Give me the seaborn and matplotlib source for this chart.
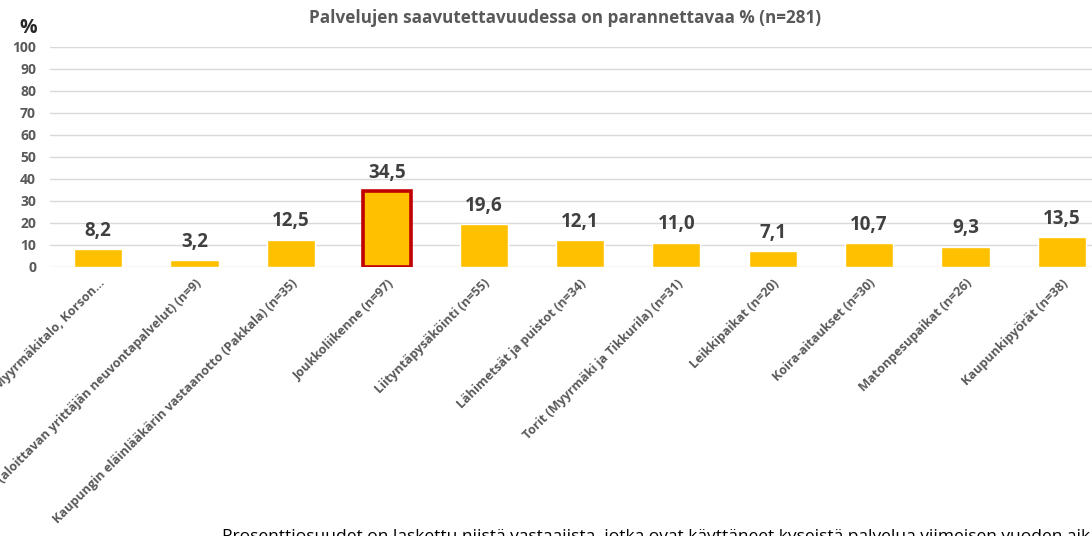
import matplotlib
matplotlib.use("Agg")
import matplotlib.pyplot as plt
import seaborn as sns
import pandas as pd

# Data
categories = [
    "Asiointipisteet (Tikkurila, Myyrmäkitalo, Korson...",
    "Yritysneuvonta (aloittavan yrittäjän neuvontapalvelut) (n=9)",
    "Kaupungin eläinlääkärin vastaanotto (Pakkala) (n=35)",
    "Joukkoliikenne (n=97)",
    "Liityntäpysäköinti (n=55)",
    "Lähimetsät ja puistot (n=34)",
    "Torit (Myyrmäki ja Tikkurila) (n=31)",
    "Leikkipaikat (n=20)",
    "Koira-aitaukset (n=30)",
    "Matonpesupaikat (n=26)",
    "Kaupunkipyörät (n=38)",
]
values = [8.2, 3.2, 12.5, 34.5, 19.6, 12.1, 11.0, 7.1, 10.7, 9.3, 13.5]
highlight = "Joukkoliikenne (n=97)"
yticks = [0, 10, 20, 30, 40, 50, 60, 70, 80, 90, 100]

df = pd.DataFrame({"Palvelu": categories, "Osuus": values})

sns.set_style("white")
plt.rcParams["font.family"] = ["Open Sans", "DejaVu Sans"]

grey = "#595959"
fig = plt.figure(figsize=(10.92, 5.36), dpi=100)
ax = fig.add_axes([50 / 1092, 269 / 536, 1060 / 1092, 220 / 536])

sns.barplot(data=df, x="Palvelu", y="Osuus", color="#FFC000", width=0.5,
            saturation=1, ax=ax, zorder=3)

# Highlight one bar with a dark red frame
for bar, cat in zip(ax.patches, categories):
    if cat == highlight:
        bar.set_edgecolor("#C00000")
        bar.set_linewidth(2.6)

# Value labels
for bar, v in zip(ax.patches, values):
    ax.annotate(f"{v:.1f}".replace(".", ","),
                (bar.get_x() + bar.get_width() / 2, bar.get_height()),
                xytext=(0, 6), textcoords="offset points",
                ha="center", va="bottom", fontsize=13.5, fontweight="bold",
                color="#404040")

ax.set_ylim(0, 100)
ax.set_xlim(-0.5, len(categories) - 0.5)
ax.set_yticks(yticks)
ax.set_yticklabels([str(t) for t in yticks], fontsize=10, fontweight="bold", color=grey)
ax.yaxis.grid(True, color="#D9D9D9", linewidth=1, zorder=0)
ax.tick_params(axis="y", length=0, pad=10)
ax.tick_params(axis="x", length=0, pad=7)
ax.set_xticks(range(len(categories)))
ax.set_xticklabels(categories, rotation=45, ha="right", rotation_mode="anchor",
                   fontsize=9.1, fontweight="bold", color=grey)
ax.set_xlabel("")
ax.set_ylabel("")
for s in ax.spines.values():
    s.set_visible(False)

fig.text(565 / 1092, 1 - 18 / 536, "Palvelujen saavutettavuudessa on parannettavaa % (n=281)",
         ha="center", va="center", fontsize=12.3, fontweight="bold", color=grey)
fig.text(28 / 1092, 1 - 28 / 536, "%", ha="center", va="center",
         fontsize=14, fontweight="bold", color="#262626")
fig.text(222 / 1092, 7 / 536,
         "Prosenttiosuudet on laskettu niistä vastaajista, jotka ovat käyttäneet kyseistä palvelua viimeisen vuoden aikana",
         ha="left", va="top", fontsize=12.5, color="#000000")

fig.savefig("out.png", dpi=100)
